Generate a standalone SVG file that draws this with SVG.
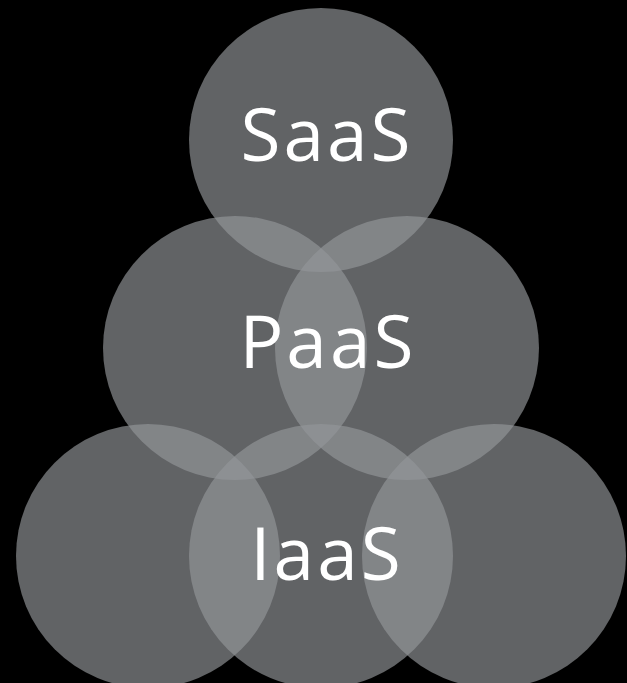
<svg xmlns="http://www.w3.org/2000/svg" width="627" height="683" viewBox="0 0 627 683">
<style>
.c{fill:#93969a;fill-opacity:0.66}
.t{font-family:"Open Sans","Liberation Sans",sans-serif;font-size:73px;font-weight:400;letter-spacing:3px;fill:#ffffff;text-anchor:middle}
</style>
<rect width="627" height="683" fill="#000000"/>
<g id="connectors"></g>
<g id="saas"><circle class="c" cx="321" cy="140" r="132"/></g>
<g id="paas-left"><circle class="c" cx="235" cy="348" r="132"/></g>
<g id="paas-right"><circle class="c" cx="407" cy="348" r="132"/></g>
<g id="iaas-left"><circle class="c" cx="148" cy="556" r="132"/></g>
<g id="iaas-mid"><circle class="c" cx="321" cy="556" r="132"/></g>
<g id="iaas-right"><circle class="c" cx="494" cy="556" r="132"/></g>
<g id="labels">
<text class="t" x="327" y="161">SaaS</text>
<text class="t" x="328" y="368">PaaS</text>
<text class="t" x="327" y="580">IaaS</text>
</g>
</svg>
